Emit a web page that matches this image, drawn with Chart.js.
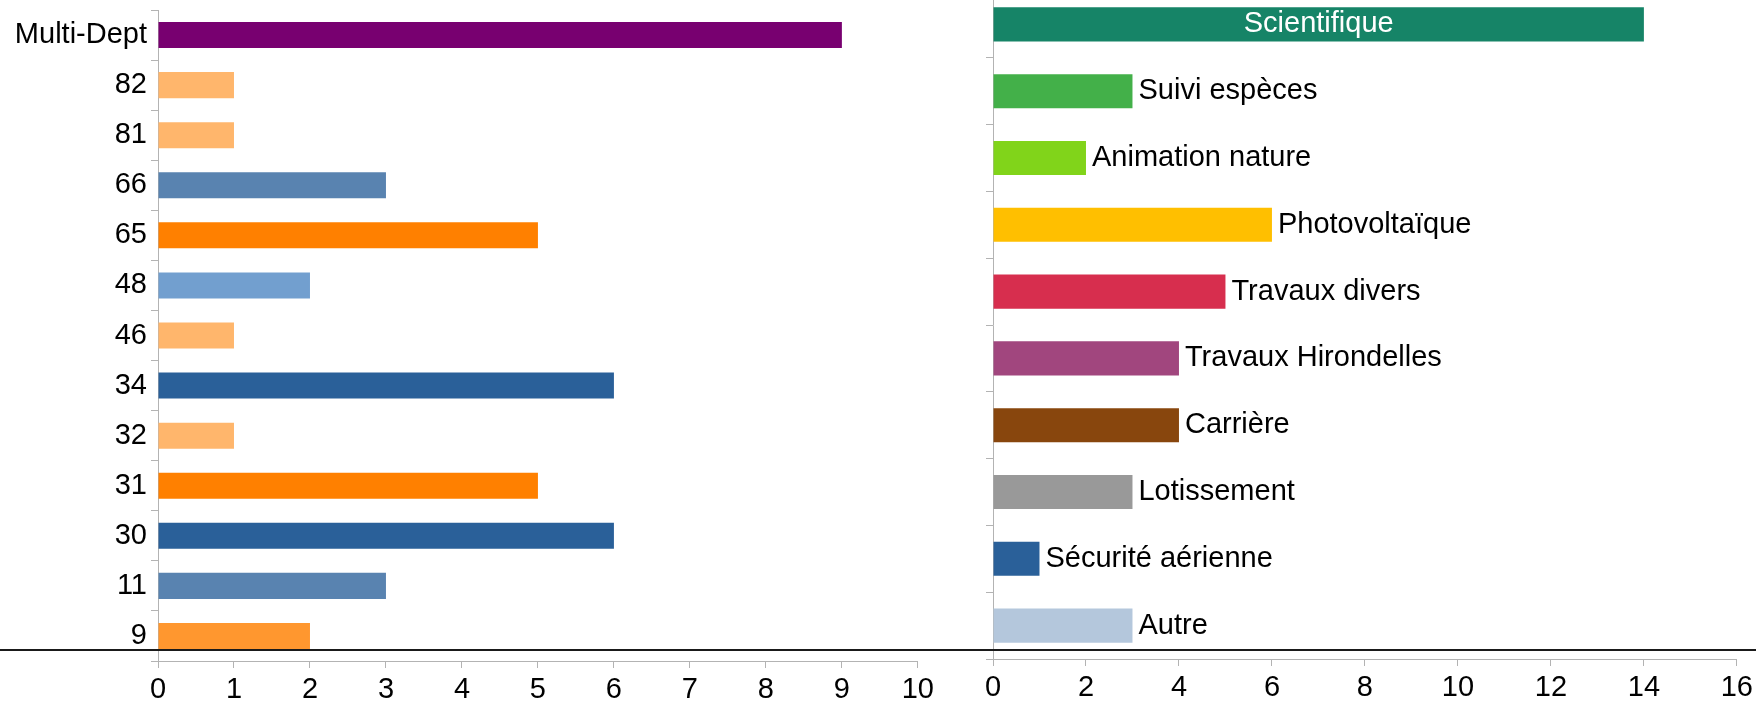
<!DOCTYPE html>
<html>
<head>
<meta charset="utf-8">
<script src="https://cdn.jsdelivr.net/npm/chart.js@4"></script>
<style>
  html, body { margin: 0; padding: 0; background: #fff; overflow: hidden; }
  body { width: 1758px; height: 702px; position: relative; }
  #deptBox { position: absolute; left: 0; top: 0; width: 939px; height: 702px; }
  #typeBox { position: absolute; left: 961px; top: -9px; width: 797px; height: 711px; }
  #rule { position: absolute; left: 0; top: 649px; width: 1756px; height: 2px; background: #1a1a1a; }
</style>
</head>
<body>
<div id="deptBox"><canvas id="deptChart"></canvas></div>
<div id="typeBox"><canvas id="typeChart"></canvas></div>
<div id="rule"></div>
<script>
// dossiers par département (haut -> bas)
const depts = ["Multi-Dept", "82", "81", "66", "65", "48", "46", "34", "32", "31", "30", "11", "9"];
const deptCounts = [9, 1, 1, 3, 5, 2, 1, 6, 1, 5, 6, 3, 2];
const deptColors = ["#780070", "#ffb66c", "#ffb66c", "#5983b0", "#ff8000", "#729fcf", "#ffb66c",
  "#2a6099", "#ffb66c", "#ff8000", "#2a6099", "#5983b0", "#ff972f"];

// dossiers par type (haut -> bas)
const types = ["Scientifique", "Suivi espèces", "Animation nature", "Photovoltaïque", "Travaux divers",
  "Travaux Hirondelles", "Carrière", "Lotissement", "Sécurité aérienne", "Autre"];
const typeCounts = [14, 3, 2, 6, 5, 4, 4, 3, 1, 3];
const typeColors = ["#168467", "#43b049", "#81d41a", "#ffbf00", "#d72e4e", "#a1467e", "#88460d",
  "#999999", "#2a6099", "#b4c7dc"];

const FONT = "'Liberation Sans', Arial, sans-serif";
const FSIZE = 29;
const AXIS = "#b3b3b3";

Chart.defaults.font.family = FONT;
Chart.defaults.color = "#000";

const axisGrid = {
  drawOnChartArea: false,
  drawTicks: true,
  tickLength: 7,
  color: AXIS,
  lineWidth: 1
};

const bottomScale = (max, step, height) => ({
  type: 'linear',
  min: 0,
  max: max,
  ticks: { stepSize: step, font: { size: FSIZE }, color: "#000", padding: 5, maxRotation: 0 },
  grid: axisGrid,
  border: { color: AXIS, width: 1 },
  afterFit: (s) => { s.height = height; }
});

const leftScale = (width, showLabels) => ({
  ticks: { display: showLabels, font: { size: FSIZE }, color: "#000", padding: 4 },
  grid: Object.assign({}, axisGrid, { offset: true }),
  border: { color: AXIS, width: 1 },
  afterFit: (s) => {
    s.width = width;
    s.paddingTop = 0;
    s.paddingBottom = 0;
  }
});

new Chart(document.getElementById("deptChart"), {
  type: 'bar',
  data: {
    labels: depts,
    datasets: [{
      data: deptCounts,
      backgroundColor: deptColors,
      categoryPercentage: 1,
      barPercentage: 0.52
    }]
  },
  options: {
    indexAxis: 'y',
    responsive: true,
    maintainAspectRatio: false,
    animation: false,
    devicePixelRatio: 1,
    layout: { padding: { top: 10, right: 18, left: 0, bottom: 0 } },
    plugins: { legend: { display: false }, tooltip: { enabled: false } },
    scales: {
      x: bottomScale(10, 1, 41),
      y: leftScale(158, true)
    }
  }
});

// étiquettes au bout des barres (dans la barre si elle est longue)
const barLabels = {
  id: 'barLabels',
  afterDatasetsDraw(chart) {
    const ctx = chart.ctx;
    const meta = chart.getDatasetMeta(0);
    const half = chart.chartArea.width / 2;
    ctx.save();
    ctx.font = FSIZE + "px " + FONT;
    ctx.textBaseline = 'middle';
    meta.data.forEach((bar, i) => {
      const txt = chart.data.labels[i];
      if (bar.x - bar.base > half) {
        ctx.fillStyle = "#fff";
        ctx.textAlign = 'center';
        ctx.fillText(txt, (bar.x + bar.base) / 2, bar.y);
      } else {
        ctx.fillStyle = "#000";
        ctx.textAlign = 'left';
        ctx.fillText(txt, bar.x + 6, bar.y);
      }
    });
    ctx.restore();
  }
};

new Chart(document.getElementById("typeChart"), {
  type: 'bar',
  data: {
    labels: types,
    datasets: [{
      data: typeCounts,
      backgroundColor: typeColors,
      categoryPercentage: 1,
      barPercentage: 0.51
    }]
  },
  options: {
    indexAxis: 'y',
    responsive: true,
    maintainAspectRatio: false,
    animation: false,
    devicePixelRatio: 1,
    layout: { padding: { top: 0, right: 17, left: 0, bottom: 0 } },
    plugins: { legend: { display: false }, tooltip: { enabled: false } },
    scales: {
      x: bottomScale(16, 2, 43),
      y: leftScale(32, false)
    }
  },
  plugins: [barLabels]
});
</script>
</body>
</html>
